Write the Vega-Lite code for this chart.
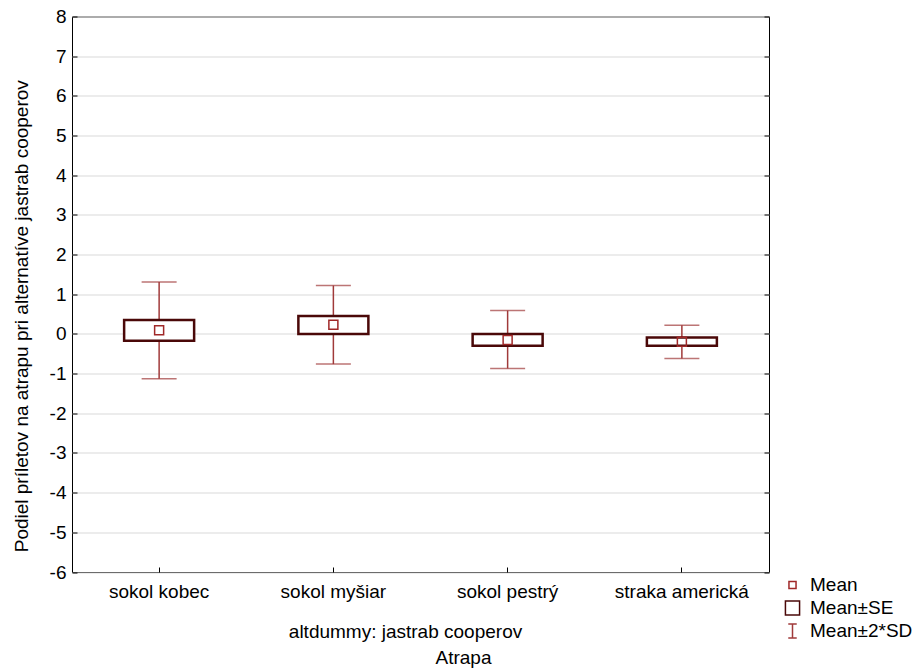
{
  "$schema": "https://vega.github.io/schema/vega-lite/v6.json",
  "autosize": {"type": "none"},
  "width": 697,
  "height": 555.5,
  "padding": {"left": 72, "top": 16.5, "right": 145, "bottom": 98},
  "background": "white",
  "title": {"text": "Podiel príletov na atrapu pri alternatíve jastrab cooperov", "orient": "left", "anchor": "middle", "offset": 17, "dx": -22, "fontSize": 19, "fontWeight": "normal", "font": "Liberation Sans", "color": "black", "limit": 2000},
  "config": {
    "font": "Liberation Sans",
    "view": {"stroke": "black", "strokeWidth": 1},
    "axis": {"labelFont": "Liberation Sans", "titleFont": "Liberation Sans", "labelColor": "black", "titleColor": "black", "titleFontWeight": "normal", "labelFontSize": 19, "titleFontSize": 19, "titleLimit": 2000}
  },
  "data": {
    "values": [
      {"atrapa": "sokol kobec", "mean": 0.09, "se_lo": -0.17, "se_hi": 0.35, "sd_lo": -1.13, "sd_hi": 1.31, "leg": "Mean"},
      {"atrapa": "sokol myšiar", "mean": 0.23, "se_lo": 0.0, "se_hi": 0.45, "sd_lo": -0.76, "sd_hi": 1.22, "leg": "Mean"},
      {"atrapa": "sokol pestrý", "mean": -0.15, "se_lo": -0.30, "se_hi": 0.0, "sd_lo": -0.87, "sd_hi": 0.59, "leg": "Mean"},
      {"atrapa": "straka americká", "mean": -0.20, "se_lo": -0.30, "se_hi": -0.09, "sd_lo": -0.62, "sd_hi": 0.22, "leg": "Mean"}
    ]
  },
  "resolve": {"axis": {"x": "independent", "y": "independent"}},
  "layer": [
    {
      "mark": {"type": "rule", "color": "#a03a3a", "strokeWidth": 1.5},
      "encoding": {
        "x": {"field": "atrapa", "type": "nominal", "sort": null,
          "scale": {"type": "band", "paddingInner": 0, "paddingOuter": 0},
          "axis": {"orient": "bottom", "title": "altdummy: jastrab cooperov", "labelAngle": 0, "labelPadding": 15, "tickSize": -5, "tickColor": "black", "domain": false, "grid": false, "titleX": 333, "titleY": 59, "titleAlign": "center", "titleBaseline": "middle", "titleAnchor": null}},
        "y": {"field": "sd_lo", "type": "quantitative",
          "scale": {"domain": [-6, 8], "nice": false, "zero": false},
          "axis": {"orient": "left", "title": null, "values": [-6,-5,-4,-3,-2,-1,0,1,2,3,4,5,6,7,8], "labelExpr": "datum.value < 0 ? '-' + abs(datum.value) : '' + datum.value", "tickSize": -5, "tickColor": "black", "labelPadding": 11, "domain": false, "grid": true, "gridColor": "#d9d9d9", "gridWidth": 1}},
        "y2": {"field": "sd_hi"}
      }
    },
    {
      "mark": {"type": "tick", "color": "#a03a3a", "size": 35, "thickness": 1.5},
      "encoding": {
        "x": {"field": "atrapa", "type": "nominal", "sort": null,
          "axis": {"orient": "bottom", "title": "Atrapa", "labels": false, "ticks": false, "domain": false, "grid": false, "titleX": 391, "titleY": 85, "titleAlign": "center", "titleBaseline": "middle", "titleAnchor": null}},
        "y": {"field": "sd_lo", "type": "quantitative",
          "axis": {"orient": "right", "title": null, "labels": false, "values": [-6,-5,-4,-3,-2,-1,0,1,2,3,4,5,6,7,8], "tickSize": -5, "tickColor": "black", "domain": false, "grid": false}}
      }
    },
    {
      "mark": {"type": "tick", "color": "#a03a3a", "size": 35, "thickness": 1.5},
      "encoding": {
        "x": {"field": "atrapa", "type": "nominal", "sort": null, "axis": null},
        "y": {"field": "sd_hi", "type": "quantitative", "axis": null}
      }
    },
    {
      "mark": {"type": "bar", "width": 70, "fill": "white", "stroke": "#4a0808", "strokeWidth": 2.5},
      "encoding": {
        "x": {"field": "atrapa", "type": "nominal", "sort": null, "axis": null},
        "y": {"field": "se_lo", "type": "quantitative", "axis": null},
        "y2": {"field": "se_hi"}
      }
    },
    {
      "mark": {"type": "point", "filled": false, "size": 324, "strokeWidth": 1.5, "opacity": 1},
      "encoding": {
        "x": {"field": "atrapa", "type": "nominal", "sort": null, "axis": null},
        "y": {"field": "mean", "type": "quantitative", "axis": null},
        "shape": {"field": "leg", "type": "nominal",
          "scale": {"domain": ["Mean", "Mean±SE", "Mean±2*SD"], "range": ["M-0.5,-0.5H0.5V0.5H-0.5Z", "M-1,-1H1V1H-1Z", "M-0.6,-1H0.6M0,-1V1M-0.6,1H0.6"]},
          "legend": {"title": null, "orient": "none", "legendX": 711, "legendY": 559, "labelFontSize": 19, "labelFont": "Liberation Sans", "labelColor": "black", "symbolSize": 200, "symbolStrokeWidth": 1.5, "rowPadding": 2, "labelOffset": 8}},
        "stroke": {"field": "leg", "type": "nominal",
          "scale": {"domain": ["Mean", "Mean±SE", "Mean±2*SD"], "range": ["#a02828", "#4a0808", "#a03a3a"]},
          "legend": {"title": null, "orient": "none", "legendX": 711, "legendY": 559, "labelFontSize": 19, "labelFont": "Liberation Sans", "labelColor": "black", "symbolSize": 200, "symbolStrokeWidth": 1.5, "rowPadding": 2, "labelOffset": 8}}
      }
    }
  ]
}
